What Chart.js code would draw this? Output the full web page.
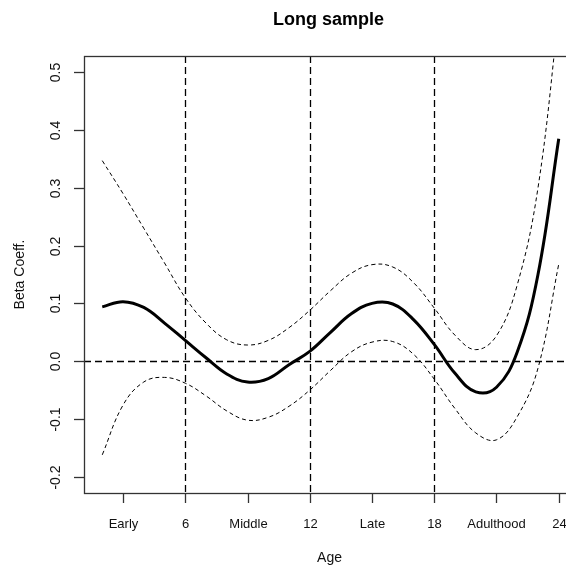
<!DOCTYPE html>
<html>
<head>
<meta charset="utf-8">
<script src="https://cdn.jsdelivr.net/npm/chart.js@4/dist/chart.umd.min.js"></script>
<style>
  html, body { margin: 0; padding: 0; background: #fff; overflow: hidden; }
  canvas { display: block; }
</style>
</head>
<body>
<canvas id="c" width="600" height="570"></canvas>
<script>
// Age (years) at which the smooth coefficient curve is evaluated
const ages  = [2, 3, 4, 5, 6, 7, 8, 9, 10, 11, 12, 13, 14, 15, 16, 17, 18, 19, 20, 21, 22, 23, 24];
// Estimated coefficient and its confidence band
const fit   = [0.094, 0.103, 0.093, 0.066, 0.036, 0.006, -0.022, -0.036, -0.030, -0.006, 0.017, 0.050, 0.082, 0.100, 0.099, 0.072, 0.029, -0.021, -0.053, -0.045, 0.016, 0.150, 0.385];
const upper = [0.347, 0.290, 0.230, 0.170, 0.110, 0.066, 0.037, 0.028, 0.036, 0.058, 0.088, 0.122, 0.152, 0.167, 0.163, 0.136, 0.092, 0.045, 0.020, 0.044, 0.132, 0.300, 0.600];
const lower = [-0.162, -0.076, -0.036, -0.028, -0.038, -0.060, -0.086, -0.102, -0.097, -0.078, -0.050, -0.016, 0.016, 0.033, 0.034, 0.012, -0.031, -0.082, -0.124, -0.136, -0.096, -0.012, 0.168];

// Axis ticks and labels
const xTickValues = [3, 6, 9, 12, 15, 18, 21, 24];
const xTickLabels = ['Early', '6', 'Middle', '12', 'Late', '18', 'Adulthood', '24'];
const yTickValues = [-0.2, -0.1, 0.0, 0.1, 0.2, 0.3, 0.4, 0.5];
const yTickLabels = ['-0.2', '-0.1', '0.0', '0.1', '0.2', '0.3', '0.4', '0.5'];
// Boundaries between developmental periods, and the null line
const periodBreaks = [6, 12, 18];
const nullValue = 0;

// Axis limits with a 4% margin on each side
const xLim = [2, 24];
const yLim = [-0.2, 0.5];
const pad = (lim) => { const d = (lim[1] - lim[0]) * 0.04; return [lim[0] - d, lim[1] + d]; };
const xRange = pad(xLim);
const yRange = pad(yLim);

const FONT = '"Liberation Sans", Arial, Helvetica, sans-serif';
const toPoints = (vals) => ages.map((a, i) => ({ x: a, y: vals[i] }));

// Reference lines under the curves
const refLines = {
  id: 'refLines',
  beforeDatasetsDraw(chart) {
    const { ctx, chartArea: a, scales: { x, y } } = chart;
    ctx.save();
    ctx.strokeStyle = '#000';
    ctx.lineWidth = 1.3;
    ctx.setLineDash([7, 4]);
    periodBreaks.forEach(v => {
      const px = Math.round(x.getPixelForValue(v)) + 0.5;
      ctx.beginPath(); ctx.moveTo(px, a.top); ctx.lineTo(px, a.bottom); ctx.stroke();
    });
    const py = Math.round(y.getPixelForValue(nullValue)) + 0.5;
    ctx.beginPath(); ctx.moveTo(a.left, py); ctx.lineTo(a.right, py); ctx.stroke();
    ctx.restore();
  }
};

// Box, ticks, tick labels and titles
const frame = {
  id: 'frame',
  afterDraw(chart) {
    const { ctx, chartArea: a, scales: { x, y } } = chart;
    ctx.save();
    ctx.setLineDash([]);
    ctx.strokeStyle = '#333';
    ctx.lineWidth = 1.3;
    ctx.strokeRect(a.left + 0.5, a.top + 0.5, a.right - a.left, a.bottom - a.top);

    ctx.fillStyle = '#111';
    // x axis
    ctx.font = '13px ' + FONT;
    ctx.textAlign = 'center';
    ctx.textBaseline = 'middle';
    xTickValues.forEach((v, i) => {
      const px = Math.round(x.getPixelForValue(v)) + 0.5;
      ctx.beginPath(); ctx.moveTo(px, a.bottom); ctx.lineTo(px, a.bottom + 10); ctx.stroke();
      ctx.fillText(xTickLabels[i], px, a.bottom + 31);
    });
    // y axis
    ctx.font = '14px ' + FONT;
    yTickValues.forEach((v, i) => {
      const py = Math.round(y.getPixelForValue(v)) + 0.5;
      ctx.beginPath(); ctx.moveTo(a.left - 10, py); ctx.lineTo(a.left, py); ctx.stroke();
      ctx.save();
      ctx.translate(a.left - 28, py);
      ctx.rotate(-Math.PI / 2);
      ctx.fillText(yTickLabels[i], 0, 0);
      ctx.restore();
    });
    // titles
    const cx = (a.left + a.right) / 2;
    ctx.font = 'bold 18px ' + FONT;
    ctx.fillStyle = '#000';
    ctx.fillText('Long sample', cx - 2, 20);
    ctx.font = '14px ' + FONT;
    ctx.fillStyle = '#111';
    ctx.fillText('Age', cx - 1, 558);
    ctx.save();
    ctx.translate(20, (a.top + a.bottom) / 2);
    ctx.rotate(-Math.PI / 2);
    ctx.fillText('Beta Coeff.', 0, 0);
    ctx.restore();
    ctx.restore();
  }
};

const lineBase = {
  pointRadius: 0,
  tension: 0.4,
  capBezierPoints: false,
  borderColor: '#000',
  fill: false
};

new Chart(document.getElementById('c'), {
  type: 'line',
  data: {
    datasets: [
      Object.assign({ label: 'Upper bound', data: toPoints(upper), borderWidth: 1, borderDash: [4, 3] }, lineBase),
      Object.assign({ label: 'Lower bound', data: toPoints(lower), borderWidth: 1, borderDash: [4, 3] }, lineBase),
      Object.assign({ label: 'Beta Coeff.', data: toPoints(fit), borderWidth: 3 }, lineBase)
    ]
  },
  options: {
    responsive: false,
    animation: false,
    layout: { padding: { left: 84, top: 56, right: 23, bottom: 77 } },
    plugins: { legend: { display: false }, tooltip: { enabled: false }, title: { display: false } },
    scales: {
      x: { type: 'linear', display: false, min: xRange[0], max: xRange[1] },
      y: { type: 'linear', display: false, min: yRange[0], max: yRange[1] }
    }
  },
  plugins: [refLines, frame]
});
</script>
</body>
</html>
